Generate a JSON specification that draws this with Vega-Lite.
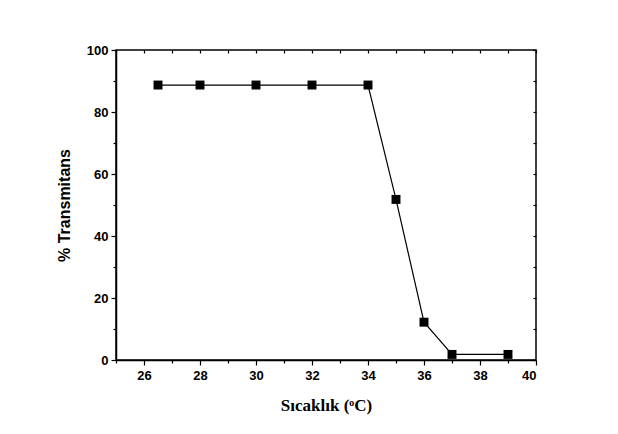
{
  "$schema": "https://vega.github.io/schema/vega-lite/v6.json",
  "width": 420,
  "height": 310,
  "autosize": {"type": "none"},
  "padding": {"left": 116, "top": 50, "right": 82, "bottom": 74},
  "background": "white",
  "config": {
    "view": {"stroke": "black", "strokeWidth": 1.5},
    "axis": {
      "domainColor": "black", "domainWidth": 1.5,
      "tickColor": "black", "tickWidth": 1.2,
      "labelColor": "black", "labelFont": "Liberation Sans", "labelFontWeight": "bold", "labelFontSize": 13,
      "titleColor": "black", "grid": false
    }
  },
  "data": {"values": [
    {"t": 26.5, "v": 88.7},
    {"t": 28, "v": 88.7},
    {"t": 30, "v": 88.7},
    {"t": 32, "v": 88.7},
    {"t": 34, "v": 88.7},
    {"t": 35, "v": 51.8},
    {"t": 36, "v": 12.2},
    {"t": 37, "v": 1.8},
    {"t": 39, "v": 1.8}
  ]},
  "layer": [
    {
      "mark": {"type": "line", "color": "black", "strokeWidth": 1.2},
      "encoding": {
        "x": {"field": "t", "type": "quantitative", "scale": {"domain": [25, 40], "nice": false, "zero": false},
          "axis": {"orient": "bottom", "title": "Sıcaklık (ᵒC)", "titleFont": "Liberation Serif", "titleFontSize": 17, "titleFontWeight": "bold", "titlePadding": 15,
            "values": [25,26,27,28,29,30,31,32,33,34,35,36,37,38,39,40],
            "labelExpr": "datum.value % 2 === 0 ? datum.label : ''",
            "tickSize": {"condition": {"test": "datum.value % 2 === 0", "value": 5}, "value": 3},
            "labelPadding": 4}},
        "y": {"field": "v", "type": "quantitative", "scale": {"domain": [0, 100], "nice": false},
          "axis": {"orient": "left", "title": "% Transmitans", "titleFont": "Liberation Sans", "titleFontSize": 16, "titleFontWeight": "bold", "titlePadding": 14,
            "values": [0,10,20,30,40,50,60,70,80,90,100],
            "labelExpr": "datum.value % 20 === 0 ? datum.label : ''",
            "tickSize": {"condition": {"test": "datum.value % 20 === 0", "value": 5}, "value": 3},
            "labelPadding": 3}}
      }
    },
    {
      "mark": {"type": "point", "shape": "square", "filled": true, "color": "black", "opacity": 1, "size": 80},
      "encoding": {
        "x": {"field": "t", "type": "quantitative",
          "axis": {"orient": "top", "title": null, "labels": false, "domain": false,
            "values": [25,26,27,28,29,30,31,32,33,34,35,36,37,38,39,40], "tickSize": -3}},
        "y": {"field": "v", "type": "quantitative",
          "axis": {"orient": "right", "title": null, "labels": false, "domain": false,
            "values": [0,10,20,30,40,50,60,70,80,90,100], "tickSize": -3}}
      }
    }
  ],
  "resolve": {"axis": {"x": "independent", "y": "independent"}}
}
